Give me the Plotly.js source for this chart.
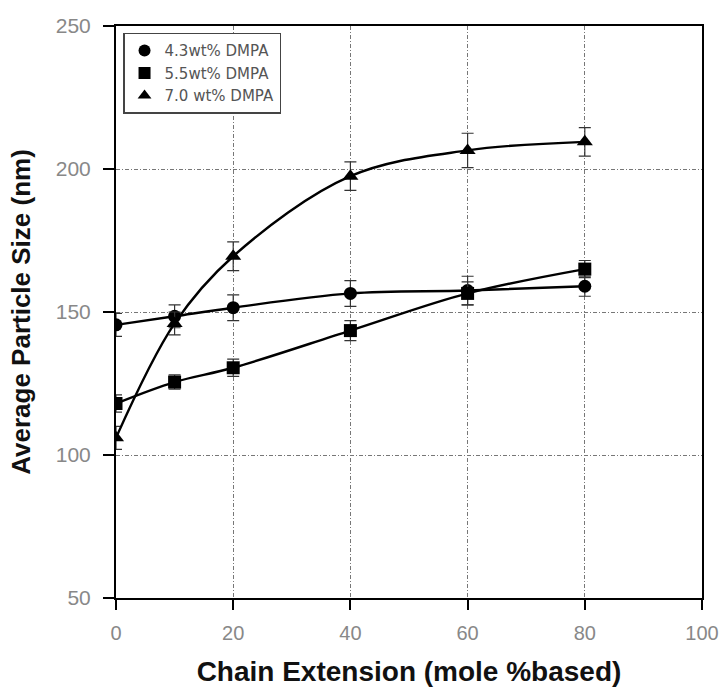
<!DOCTYPE html>
<html>
<head>
<meta charset="utf-8">
<script src="https://cdn.plot.ly/plotly-3.0.1.min.js"></script>
<style>html,body{margin:0;padding:0;background:#fff;}#chart{width:720px;height:689px;}</style>
</head>
<body>
<div id="chart"></div>
<script>
const chainExt = [0, 10, 20, 40, 60, 80];
const names = ["4.3wt% DMPA", "5.5wt% DMPA", "7.0 wt% DMPA"];
const size43 = [145.5, 148.5, 151.5, 156.5, 157.5, 159];
const err43 = [4, 4, 4.5, 4.5, 5, 3.5];
const size55 = [118, 125.5, 130.5, 143.5, 156.5, 165];
const err55 = [3, 2.5, 3, 3.5, 4, 3];
const size70 = [106, 146, 169.5, 197.5, 206.5, 209.5];
const err70 = [4, 4, 5, 5, 6, 5];
const symbols = ["circle", "square", "triangle-up"];
const xTicks = [0, 20, 40, 60, 80, 100];
const yTicks = [50, 100, 150, 200, 250];

const series = [[size43, err43], [size55, err55], [size70, err70]];
const traces = [];
series.forEach((s, i) => {
  traces.push({
    x: chainExt, y: s[0], type: "scatter", mode: "lines+markers",
    line: {color: "#000", width: 2.4, shape: "spline", smoothing: 1},
    marker: {symbol: symbols[i], size: i === 2 ? 14 : 13, color: "#000"},
    error_y: {type: "data", array: s[1], visible: true, color: "#333", thickness: 1.2, width: 6},
    showlegend: false, hoverinfo: "skip"
  });
});
names.forEach((n, i) => {
  traces.push({
    x: [null], y: [null], type: "scatter", mode: "markers", name: n,
    marker: {symbol: symbols[i], size: 12, color: "#000"}, showlegend: true
  });
});

const layout = {
  width: 720, height: 689,
  margin: {l: 116, r: 18, t: 26, b: 91},
  paper_bgcolor: "#fff", plot_bgcolor: "#fff",
  font: {family: "Liberation Sans, Arial, sans-serif", color: "#000"},
  showlegend: true,
  legend: {
    x: 0.012, y: 0.988, xanchor: "left", yanchor: "top",
    bgcolor: "#fff", bordercolor: "#444", borderwidth: 1.5,
    font: {family: "DejaVu Sans, sans-serif", size: 15, color: "#555"}, itemwidth: 30, tracegroupgap: 4
  },
  xaxis: {
    range: [0, 100], tickvals: xTicks, ticktext: xTicks.map(String),
    ticks: "outside", ticklen: 10, tickwidth: 2, tickcolor: "#000", ticklabelstandoff: 6,
    ticklabeloverflow: "allow",
    showline: true, linecolor: "#000", linewidth: 2, mirror: true,
    showgrid: true, gridcolor: "#777", gridwidth: 1, griddash: "4px,2px,1px,2px",
    zeroline: false,
    tickfont: {size: 20, color: "#888"},
    title: {text: "<b>Chain Extension (mole %based)</b>", font: {size: 28, color: "#111"}, standoff: 18}
  },
  yaxis: {
    range: [50, 250], tickvals: yTicks, ticktext: yTicks.map(String),
    ticks: "outside", ticklen: 11, tickwidth: 2, tickcolor: "#000", ticklabelstandoff: 8,
    showline: true, linecolor: "#000", linewidth: 2, mirror: true,
    showgrid: true, gridcolor: "#777", gridwidth: 1, griddash: "4px,2px,1px,2px",
    zeroline: false,
    tickfont: {size: 21, color: "#888"},
    title: {text: "<b>Average Particle Size (nm)</b>", font: {size: 26, color: "#111"}, standoff: 18}
  }
};
Plotly.newPlot("chart", traces, layout, {staticPlot: true});
</script>
</body>
</html>
